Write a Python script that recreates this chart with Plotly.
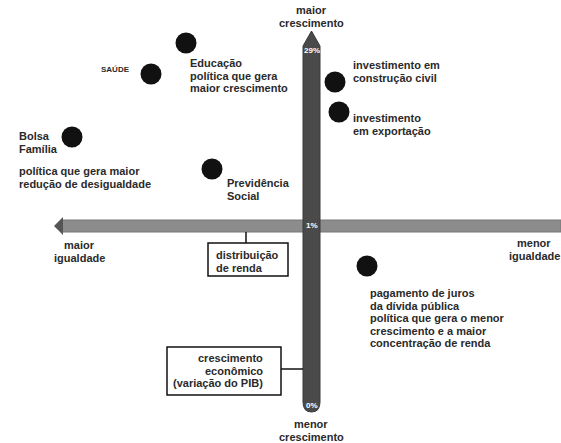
import plotly.graph_objects as go

# policies placed on the diagram (layout units = page pixels, y grows downward)
policies = ["Educação", "Saúde", "Bolsa Família", "Previdência Social",
            "Construção civil", "Exportação", "Juros da dívida"]
pos_x = [186, 151, 72, 212, 335, 339, 367]
pos_y = [43, 74, 137, 169, 82, 112, 266]

# scale labels on the two bars
growth_labels = ["29%", "1%", "0%"]
growth_label_y = [50, 225, 405]

# text blocks: lines, anchor x, first-line y, alignment
labels = [
    (["maior", "crescimento"], 311, 10, "center"),
    (["menor", "crescimento"], 311, 424, "center"),
    (["maior", "igualdade"], 79, 245, "center"),
    (["menor", "igualdade"], 534, 243, "center"),
    (["Educação", "política que gera", "maior crescimento"], 188, 63, "left"),
    (["Bolsa", "Família"], 17, 136, "left"),
    (["política que gera maior", "redução de desigualdade"], 17, 171, "left"),
    (["Previdência", "Social"], 225, 183, "left"),
    (["investimento em", "construção civil"], 351, 65, "left"),
    (["investimento", "em exportação"], 351, 118, "left"),
    (["pagamento de juros", "da dívida pública", "política que gera o menor",
      "crescimento e a maior", "concentração de renda"], 368, 293, "left"),
    (["distribuição", "de renda"], 214, 255, "left"),
    (["crescimento", "econômico", "(variação do PIB)"], 265, 358, "right"),
]

FONT = "Liberation Sans, Arial, sans-serif"
TXT = "#2a2a2a"

fig = go.Figure()

fig.add_trace(go.Scatter(
    x=pos_x, y=pos_y, mode="markers", text=policies, hoverinfo="text",
    marker=dict(size=21, color="#111111", line=dict(width=0)),
    showlegend=False,
))

shapes = []
# horizontal bar (distribuição de renda) with arrow head to the left
shapes.append(dict(type="rect", x0=61, x1=561, y0=220, y1=232, layer="below",
                   fillcolor="#8c8c8c", line=dict(color="#777777", width=1)))
shapes.append(dict(type="path", path="M 54,226 L 63,217 L 63,235 Z", layer="below",
                   fillcolor="#555555", line=dict(width=0)))
# vertical bar (crescimento econômico)
shapes.append(dict(type="path", layer="below",
                   path="M 303,46 L 311.5,31 L 320,46 L 320,402 Q 320,412 311.5,412 Q 303,412 303,402 Z",
                   fillcolor="#4a4a4a", line=dict(color="#3a3a3a", width=1)))
# boxes and connectors
shapes.append(dict(type="rect", x0=208, x1=288, y0=243, y1=276,
                   fillcolor="white", line=dict(color="#111111", width=1.5)))
shapes.append(dict(type="line", x0=246, x1=246, y0=232, y1=243,
                   line=dict(color="#111111", width=1.5)))
shapes.append(dict(type="rect", x0=167, x1=281, y0=347, y1=395,
                   fillcolor="white", line=dict(color="#111111", width=1.5)))
shapes.append(dict(type="line", x0=281, x1=303, y0=369, y1=369,
                   line=dict(color="#111111", width=1.5)))

annotations = []
for lines, ax, ay, align in labels:
    for i, line in enumerate(lines):
        annotations.append(dict(
            x=ax, y=ay + i * 12.5, text=line, showarrow=False,
            xanchor=align, yanchor="middle",
            font=dict(family=FONT, size=11, color=TXT, weight="bold"),
        ))

annotations.append(dict(x=115, y=69, text="SAÚDE", showarrow=False,
                        xanchor="center", yanchor="middle",
                        font=dict(family=FONT, size=8, color=TXT, weight="bold")))

for lab, ly in zip(growth_labels, growth_label_y):
    annotations.append(dict(x=311.5, y=ly, text=lab, showarrow=False,
                            xanchor="center", yanchor="middle",
                            font=dict(family=FONT, size=8, color="white", weight="bold")))

fig.update_layout(
    width=561, height=443,
    margin=dict(l=0, r=0, t=0, b=0),
    paper_bgcolor="white", plot_bgcolor="white",
    xaxis=dict(range=[0, 561], visible=False, fixedrange=True),
    yaxis=dict(range=[443, 0], visible=False, fixedrange=True),
    shapes=shapes, annotations=annotations,
)

# remove the default page margin so the figure fills the window exactly
fig.write_html("out.html", config={"displayModeBar": False},
               post_script="document.body.style.margin='0';document.body.style.overflow='hidden';")
